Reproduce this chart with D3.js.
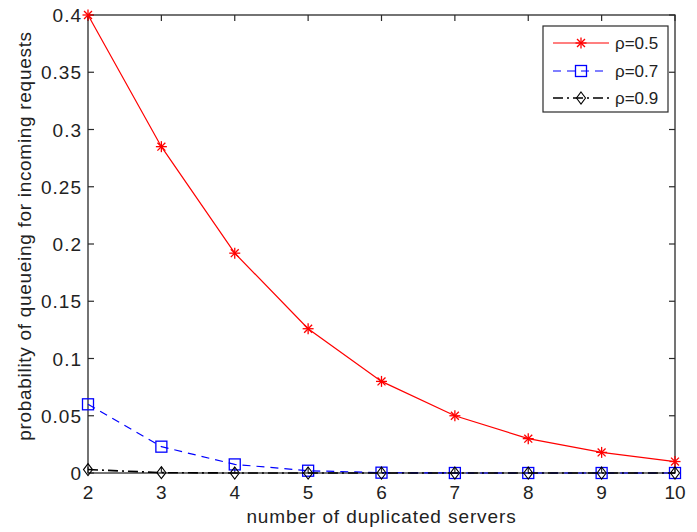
<!DOCTYPE html>
<html>
<head>
<meta charset="utf-8">
<script src="https://cdn.jsdelivr.net/npm/d3@7"></script>
<style>
  html, body { margin: 0; padding: 0; background: #fff; }
  svg { display: block; }
  text { font-family: "Liberation Sans", Arial, sans-serif; fill: #222; }
</style>
</head>
<body>
<svg id="chart" width="697" height="532"></svg>
<script>
// Number of duplicated servers (x values)
const servers = [2, 3, 4, 5, 6, 7, 8, 9, 10];
// Queueing probability for each utilisation level
const rho05 = [0.400, 0.285, 0.192, 0.126, 0.080, 0.050, 0.030, 0.018, 0.010];
const rho07 = [0.060, 0.023, 0.0075, 0.002, 0.0003, 0, 0, 0, 0];
const rho09 = [0.003, 0.0003, 0, 0, 0, 0, 0, 0, 0];
const seriesNames = ["\u03c1=0.5", "\u03c1=0.7", "\u03c1=0.9"];
const xTicks = [2, 3, 4, 5, 6, 7, 8, 9, 10];
const yTicks = [0, 0.05, 0.1, 0.15, 0.2, 0.25, 0.3, 0.35, 0.4];

const svg = d3.select("#chart");
const m = { left: 88, right: 675, top: 15, bottom: 473 };

const x = d3.scaleLinear().domain([2, 10]).range([m.left, m.right]);
const y = d3.scaleLinear().domain([0, 0.4]).range([m.bottom, m.top]);

const axisColor = "#2a2a2a";
const fontSize = 19;
const tickLen = 6;

// Frame (box on all four sides)
svg.append("rect")
  .attr("x", m.left).attr("y", m.top)
  .attr("width", m.right - m.left).attr("height", m.bottom - m.top)
  .attr("fill", "none").attr("stroke", axisColor).attr("stroke-width", 1.3);

// Inward ticks on all sides
const fmtY = d => d === 0 ? "0" : d3.format("~g")(d);
const ticksG = svg.append("g").attr("stroke", axisColor).attr("stroke-width", 1.2);
xTicks.forEach(t => {
  ticksG.append("line").attr("x1", x(t)).attr("x2", x(t)).attr("y1", m.bottom).attr("y2", m.bottom - tickLen);
  ticksG.append("line").attr("x1", x(t)).attr("x2", x(t)).attr("y1", m.top).attr("y2", m.top + tickLen);
});
yTicks.forEach(t => {
  ticksG.append("line").attr("x1", m.left).attr("x2", m.left + tickLen).attr("y1", y(t)).attr("y2", y(t));
  ticksG.append("line").attr("x1", m.right).attr("x2", m.right - tickLen).attr("y1", y(t)).attr("y2", y(t));
});

// Tick labels
svg.append("g").selectAll("text").data(xTicks).join("text")
  .attr("x", d => x(d)).attr("y", m.bottom + 26)
  .attr("text-anchor", "middle").attr("font-size", fontSize)
  .text(d => d);
svg.append("g").selectAll("text").data(yTicks).join("text")
  .attr("x", m.left - 6).attr("y", d => y(d) + 7)
  .attr("text-anchor", "end").attr("font-size", fontSize)
  .attr("letter-spacing", 1)
  .text(fmtY);

// Axis titles
svg.append("text")
  .attr("x", (m.left + m.right) / 2).attr("y", 523)
  .attr("text-anchor", "middle").attr("font-size", fontSize)
  .attr("letter-spacing", 0.9)
  .text("number of duplicated servers");
svg.append("text")
  .attr("transform", "translate(31, 236) rotate(-90)")
  .attr("text-anchor", "middle").attr("font-size", fontSize)
  .attr("letter-spacing", 0.7)
  .text("probability of queueing for incoming requests");

// Marker shapes
function asterisk(g, cx, cy, color) {
  const r = 5.5;
  const p = g.append("g").attr("stroke", color).attr("stroke-width", 1.3);
  p.append("line").attr("x1", cx - r).attr("x2", cx + r).attr("y1", cy).attr("y2", cy);
  p.append("line").attr("x1", cx).attr("x2", cx).attr("y1", cy - r).attr("y2", cy + r);
  const d = r * 0.72;
  p.append("line").attr("x1", cx - d).attr("x2", cx + d).attr("y1", cy - d).attr("y2", cy + d);
  p.append("line").attr("x1", cx - d).attr("x2", cx + d).attr("y1", cy + d).attr("y2", cy - d);
}
function square(g, cx, cy, color) {
  const s = 11;
  g.append("rect").attr("x", cx - s / 2).attr("y", cy - s / 2).attr("width", s).attr("height", s)
    .attr("fill", "none").attr("stroke", color).attr("stroke-width", 1.3);
}
function diamond(g, cx, cy, color) {
  const w = 4.5, h = 6;
  g.append("path").attr("d", `M${cx},${cy - h}L${cx + w},${cy}L${cx},${cy + h}L${cx - w},${cy}Z`)
    .attr("fill", "none").attr("stroke", color).attr("stroke-width", 1.1);
}

const series = [
  { name: seriesNames[0], values: rho05, color: "#ff0000", dash: null, width: 1.2, marker: asterisk },
  { name: seriesNames[1], values: rho07, color: "#0000ff", dash: "8,6", width: 1.2, marker: square },
  { name: seriesNames[2], values: rho09, color: "#000000", dash: "10,4,2,4", width: 1.6, marker: diamond }
];

const line = d3.line().x(d => x(d[0])).y(d => y(d[1]));
series.forEach(s => {
  const pts = servers.map((sv, i) => [sv, s.values[i]]);
  svg.append("path").datum(pts)
    .attr("d", line).attr("fill", "none")
    .attr("stroke", s.color).attr("stroke-width", s.width)
    .attr("stroke-dasharray", s.dash);
  const mg = svg.append("g");
  pts.forEach(p => s.marker(mg, x(p[0]), y(p[1]), s.color));
});

// Legend
const lg = svg.append("g");
lg.append("rect").attr("x", 543).attr("y", 26).attr("width", 125).attr("height", 86)
  .attr("fill", "#fff").attr("stroke", axisColor).attr("stroke-width", 1.2);
const rowY = [43, 71, 98];
series.forEach((s, i) => {
  const ry = rowY[i];
  lg.append("line").attr("x1", 553).attr("x2", 609).attr("y1", ry).attr("y2", ry)
    .attr("stroke", s.color).attr("stroke-width", s.width).attr("stroke-dasharray", s.dash);
  s.marker(lg, 581, ry, s.color);
  lg.append("text").attr("x", 615).attr("y", ry + 6).attr("font-size", 17).text(s.name);
});
</script>
</body>
</html>
